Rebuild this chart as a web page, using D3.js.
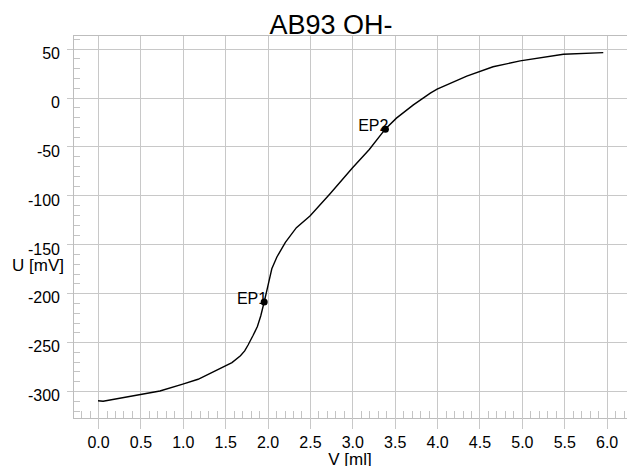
<!DOCTYPE html>
<meta charset="utf-8">
<style>
body{ margin:0; background:#fff; }
text{ font-family:"Liberation Sans", Arial, sans-serif; fill:#000; }
.grid line{ stroke:#c8c8c8; stroke-width:1; shape-rendering:crispEdges; }
.grid path{ stroke:none; }
.minor line{ stroke:#c4c4c4; shape-rendering:crispEdges; }
.frame{ stroke:#bdbdbd; shape-rendering:crispEdges; }
.axis path{ stroke:none; }
.axis line{ stroke:#c8c8c8; shape-rendering:crispEdges; }
.axis text{ font-size:16px; }
.curve{ fill:none; stroke:#000; stroke-width:1.4px; }
</style>
<body>
<script src="https://d3js.org/d3.v7.min.js"></script>
<script>

// titration curve
var volume=[0.00,0.06,0.73,1.00,1.18,1.58,1.68,1.73,1.77,1.83,1.88,1.92,1.96,2.00,2.05,2.11,2.21,2.34,2.50,2.74,3.00,3.20,3.39,3.52,3.72,3.92,4.00,4.35,4.66,4.98,5.49,5.96];
var potential=[-310,-310.5,-300,-293,-288,-271,-264,-259,-253,-243,-234,-223,-209,-194,-175,-163,-148,-133,-121,-98,-72,-53,-32,-21,-7.5,4.5,8.6,22,31.5,37.5,44.3,46];

var epNames=["EP1","EP2"];
var epVolume=[1.96,3.39];
var epPotential=[-209,-32.3];

var xTicks=[0,0.5,1,1.5,2,2.5,3,3.5,4,4.5,5,5.5,6];
var yTicks=[50,0,-50,-100,-150,-200,-250,-300];

var W=627, H=466;
var pLeft=73, pTop=35, pRight=627, pBottom=418;

var svg=d3.select("body").append("svg").attr("width",W).attr("height",H);

var x=d3.scaleLinear().domain([-0.3,6.24]).range([72.6,pRight]);
var y=d3.scaleLinear().domain([-327.6,64]).range([pBottom,pTop]);

// minor ticks
var xMinor=d3.range(-2,63).map(d=>d/10);
var yMinor=d3.range(-32,7).map(d=>d*10);

svg.append("g").attr("class","minor").selectAll("line").data(xMinor).enter().append("line")
	.attr("x1",d=>Math.round(x(d))+0.5).attr("x2",d=>Math.round(x(d))+0.5)
	.attr("y1",pBottom-7).attr("y2",pBottom);
svg.append("g").attr("class","minor").selectAll("line").data(yMinor).enter().append("line")
	.attr("y1",d=>Math.round(y(d))+0.5).attr("y2",d=>Math.round(y(d))+0.5)
	.attr("x1",pLeft).attr("x2",pLeft+7);

// grid
svg.append("g").attr("class","grid").attr("transform","translate(0,"+pBottom+")")
	.call(d3.axisBottom(x).tickValues(xTicks).tickSize(-(pBottom-pTop)).tickFormat(""));
svg.append("g").attr("class","grid").attr("transform","translate("+pRight+",0)")
	.call(d3.axisLeft(y).tickValues(yTicks).tickSize(pRight-pLeft+6).tickFormat(""));

// frame
svg.append("line").attr("class","frame").attr("x1",pLeft+0.5).attr("x2",pLeft+0.5).attr("y1",pTop).attr("y2",pBottom);
svg.append("line").attr("class","frame").attr("x1",pLeft).attr("x2",pRight).attr("y1",pBottom+0.5).attr("y2",pBottom+0.5);
svg.append("line").attr("class","frame").attr("x1",pLeft).attr("x2",pRight).attr("y1",pTop+0.5).attr("y2",pTop+0.5);

// axes with labels
svg.append("g").attr("class","axis").attr("transform","translate(0,"+pBottom+")")
	.call(d3.axisBottom(x).tickValues(xTicks).tickSize(11).tickPadding(8).tickFormat(d3.format(".1f")));
svg.append("g").attr("class","axis").attr("transform","translate("+pLeft+",0)")
	.call(d3.axisLeft(y).tickValues(yTicks).tickSize(6).tickPadding(7).tickFormat(d=>String(d)))
	.selectAll("text").attr("dy","0.61em");

// curve
var pts=volume.map((v,i)=>[v,potential[i]]);
svg.append("path").attr("class","curve")
	.attr("d",d3.line().x(d=>x(d[0])).y(d=>y(d[1]))(pts));

// end points
var ep=svg.append("g").selectAll("g").data(epNames).enter().append("g");
ep.append("circle")
	.attr("cx",(d,i)=>x(epVolume[i])).attr("cy",(d,i)=>y(epPotential[i]))
	.attr("r",3.5).attr("fill","#000");
ep.append("text")
	.attr("x",(d,i)=>x(epVolume[i])+3).attr("y",(d,i)=>y(epPotential[i])+2)
	.attr("text-anchor","end").style("font-size","16px")
	.text(d=>d);

// titles
svg.append("text").attr("x",331).attr("y",34).attr("text-anchor","middle")
	.style("font-size","27px").text("AB93 OH-");
svg.append("text").attr("x",64).attr("y",271).attr("text-anchor","end")
	.style("font-size","17px").text("U [mV]");
svg.append("text").attr("x",350).attr("y",465).attr("text-anchor","middle")
	.style("font-size","17px").text("V [ml]");

</script>
</body>
